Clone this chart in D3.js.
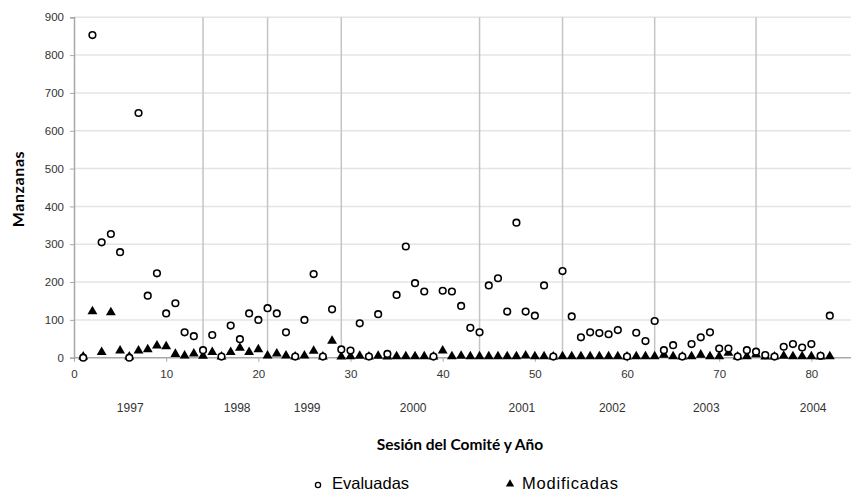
<!DOCTYPE html>
<html>
<head>
<meta charset="utf-8">
<script src="https://cdn.jsdelivr.net/npm/d3@7"></script>
<style>
  body { margin: 0; background: #fff; }
  svg { display: block; }
  text { font-family: "Liberation Sans", Arial, sans-serif; }
</style>
</head>
<body>
<svg id="chart"></svg>
<script>
// valores (sesiones 1..82)
const evaluadas = [0,853,305,327,279,0,647,164,223,117,144,67,57,20,60,3,85,49,117,100,
  131,117,67,3,100,221,3,128,22,19,91,3,115,10,166,294,197,175,3,177,
  175,137,79,67,191,210,122,357,122,111,191,3,229,109,54,67,65,62,73,3,
  66,44,97,20,33,3,36,54,67,24,24,3,20,16,7,3,29,36,27,36,5,111];
const modificadas = [0,120,12,117,16,0,16,19,29,27,7,3,8,2,12,0,12,23,12,19,
  3,8,3,0,3,15,0,42,0,1,2,0,2,0,1,1,1,1,0,16,
  1,2,1,1,1,1,1,1,3,1,1,0,1,1,1,1,1,1,1,0,
  1,1,1,5,1,0,1,5,1,1,10,0,1,6,0,0,2,1,1,1,0,1];
const xTicks = [0,10,20,30,40,50,60,70,80];
const yTicks = [0,100,200,300,400,500,600,700,800,900];
const yearBreaks = [14,21,29,44,53,63,74];
const years = ["1997","1998","1999","2000","2001","2002","2003","2004"];
const yearPos = [6.1,17.7,25.3,36.8,48.6,58.4,68.6,80.2];

const width = 851, height = 493;
const svg = d3.select('#chart').attr('width', width).attr('height', height);

const x = d3.scaleLinear().domain([0, 84.3]).range([74, 851]);
const y = d3.scaleLinear().domain([0, 900]).range([357.7, 17.3]);

// rejilla horizontal
svg.append('g')
  .selectAll('line')
  .data(yTicks.slice(1))
  .enter()
  .append('line')
  .attr('x1', x(0)).attr('x2', width)
  .attr('y1', d => y(d)).attr('y2', d => y(d))
  .attr('stroke', '#e4e4e4')
  .attr('stroke-width', 1.5);

// separadores de año
svg.append('g')
  .selectAll('line')
  .data(yearBreaks)
  .enter()
  .append('line')
  .attr('x1', d => x(d)).attr('x2', d => x(d))
  .attr('y1', y(900)).attr('y2', y(0))
  .attr('stroke', '#c4c4c4')
  .attr('stroke-width', 1.5);

// ejes
const xAxis = svg.append('g')
  .attr('transform', `translate(0,${y(0)})`)
  .call(d3.axisBottom(x).tickValues(xTicks).tickSize(4).tickPadding(8));
const yAxis = svg.append('g')
  .attr('transform', `translate(${x(0)},0)`)
  .call(d3.axisLeft(y).tickValues(yTicks).tickSize(4).tickPadding(6));

[xAxis, yAxis].forEach(a => {
  a.attr('font-family', null);
  a.select('.domain').attr('stroke', '#a8a8a8').attr('stroke-width', 1.5);
  a.selectAll('.tick line').attr('stroke', '#a8a8a8');
  a.selectAll('.tick text').attr('fill', '#333').style('font-size', '11.5px');
});
xAxis.select('.domain').attr('d', `M${x(0)},0H${width}`);

// años
svg.append('g')
  .selectAll('text')
  .data(years)
  .enter()
  .append('text')
  .attr('x', (d, i) => x(yearPos[i]))
  .attr('y', 412)
  .attr('text-anchor', 'middle')
  .attr('fill', '#333')
  .style('font-size', '12px')
  .text(d => d);

// puntos
const tri = d3.symbol().type(d3.symbolTriangle).size(42);
svg.append('g')
  .selectAll('path')
  .data(modificadas)
  .enter()
  .append('path')
  .attr('d', tri)
  .attr('transform', (d, i) => `translate(${x(i + 1)},${y(d) - 1})`)
  .attr('fill', '#000');

svg.append('g')
  .selectAll('circle')
  .data(evaluadas)
  .enter()
  .append('circle')
  .attr('cx', (d, i) => x(i + 1))
  .attr('cy', d => y(d))
  .attr('r', 3.3)
  .attr('fill', '#fff')
  .attr('stroke', '#000')
  .attr('stroke-width', 1.6);

// titulos
svg.append('text')
  .attr('x', 460)
  .attr('y', 450)
  .attr('text-anchor', 'middle')
  .style('font-family', 'Lato, "Open Sans", sans-serif')
  .style('font-weight', 'bold')
  .style('font-size', '15.5px')
  .text('Sesión del Comité y Año');

svg.append('text')
  .attr('transform', 'translate(24,189) rotate(-90)')
  .attr('text-anchor', 'middle')
  .style('font-family', 'Lato, "Open Sans", sans-serif')
  .style('font-weight', 'bold')
  .style('font-size', '16px')
  .style('letter-spacing', '0.6px')
  .text('Manzanas');

// leyenda
const legend = svg.append('g').style('font-family', 'Lato, "Open Sans", sans-serif');
legend.append('circle')
  .attr('cx', 318).attr('cy', 485).attr('r', 2.6)
  .attr('fill', '#fff').attr('stroke', '#000').attr('stroke-width', 1.3);
legend.append('text')
  .attr('x', 332).attr('y', 489)
  .style('font-size', '16.5px').style('font-weight', 300)
  .text('Evaluadas');
legend.append('path')
  .attr('d', d3.symbol().type(d3.symbolTriangle).size(30))
  .attr('transform', 'translate(510,484)');
legend.append('text')
  .attr('x', 522).attr('y', 489)
  .style('font-size', '16.5px').style('font-weight', 300)
  .style('letter-spacing', '0.8px')
  .text('Modificadas');
</script>
</body>
</html>
